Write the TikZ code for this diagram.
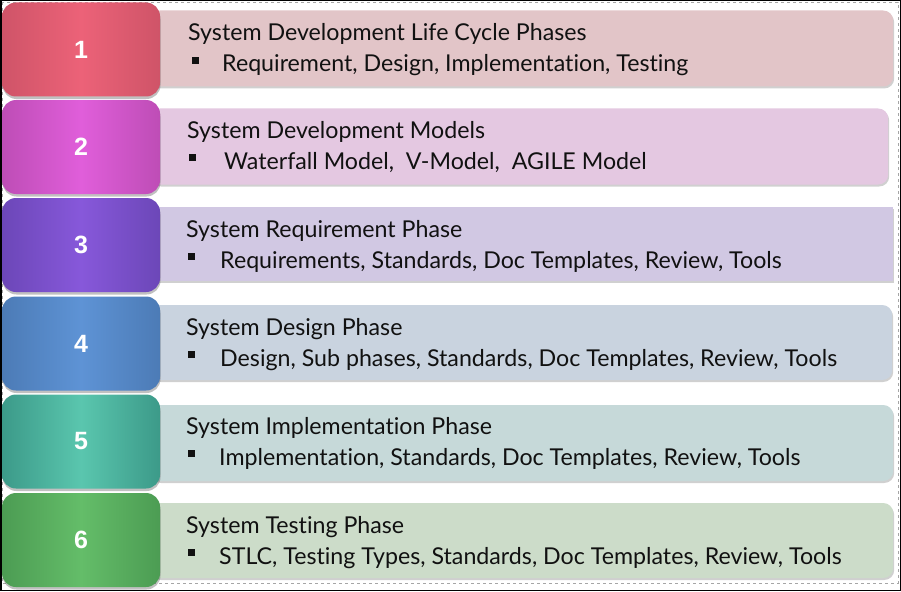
\documentclass[tikz,border=0pt]{standalone}
\usepackage{fontspec}
\setmainfont{Lato}[Ligatures=NoCommon]
\newfontfamily\numfont{Liberation Sans}
\usetikzlibrary{shadows}
\definecolor{ad}{HTML}{CF5468}\definecolor{al}{HTML}{EC6278}\definecolor{ab}{HTML}{E2C5C8}
\definecolor{bd}{HTML}{BE4DB6}\definecolor{bl}{HTML}{E05EDA}\definecolor{bb}{HTML}{E4C8E1}
\definecolor{cd}{HTML}{6C47B8}\definecolor{cl}{HTML}{8758DA}\definecolor{cb}{HTML}{D1C8E3}
\definecolor{dd}{HTML}{4C7BB6}\definecolor{dl}{HTML}{5E93D5}\definecolor{db}{HTML}{C9D3DF}
\definecolor{ed}{HTML}{3C9A89}\definecolor{el}{HTML}{5AC6AE}\definecolor{eb}{HTML}{C6D9D9}
\definecolor{fd}{HTML}{4C9C53}\definecolor{fl}{HTML}{64BD69}\definecolor{fb}{HTML}{CCDCC9}
\definecolor{txt}{HTML}{111111}
\newcommand\bul{\rule[0.34em]{0.29em}{0.29em}}
\begin{document}
\begin{tikzpicture}[x=1pt,y=-1pt,
  numbox/.style={rounded corners=14pt, minimum width=158pt, minimum height=94pt, inner sep=0pt,
    text=white, font=\numfont\bfseries\fontsize{25}{25}\selectfont,
    drop shadow={shadow xshift=0.5pt, shadow yshift=-2.5pt, opacity=0.35, fill=black!70}},
  barbox/.style={rounded corners=10pt, minimum height=76pt, inner sep=0pt, anchor=west,
    drop shadow={shadow xshift=1pt, shadow yshift=-2pt, opacity=0.3, fill=black!60}},
  ttl/.style={anchor=base west, inner sep=0pt, text=txt, font=\fontsize{23.2}{23.2}\selectfont},
  itm/.style={anchor=base west, inner sep=0pt, text=txt, font=\fontsize{23.2}{23.2}\selectfont}]
\useasboundingbox (0,0) rectangle (901,591);
\fill[white] (0,0) rectangle (901,591);
\draw[gray!70, dashed, line width=0.5pt] (2,2) rectangle (898,583);
% bars
\node[barbox, fill=ab, minimum width=743pt] (bar1) at (150,48.5) {};
\node[barbox, fill=bb, minimum width=738pt] (bar2) at (150,146.5) {};
\node[barbox, fill=cb, minimum width=743pt, minimum height=74pt, rounded corners=0pt] (bar3) at (150,243.5) {};
\node[barbox, fill=db, minimum width=742pt, minimum height=75pt] (bar4) at (150,342.5) {};
\node[barbox, fill=eb, minimum width=743pt] (bar5) at (150,443) {};
\node[barbox, fill=fb, minimum width=743pt, minimum height=75pt] (bar6) at (150,540.5) {};
% number boxes
\node[numbox, left color=ad, right color=ad, middle color=al] (box1) at (81,49.5) {1};
\node[numbox, left color=bd, right color=bd, middle color=bl] (box2) at (81,147) {2};
\node[numbox, left color=cd, right color=cd, middle color=cl] (box3) at (81,245) {3};
\node[numbox, left color=dd, right color=dd, middle color=dl] (box4) at (81,343.5) {4};
\node[numbox, left color=ed, right color=ed, middle color=el] (box5) at (81,441.5) {5};
\node[numbox, left color=fd, right color=fd, middle color=fl] (box6) at (81,540) {6};
% texts
\node[ttl] (ttl1) at (188,41) {System Development Life Cycle Phases};
\node[itm] (itm1) at (192,72) {\makebox[30pt][l]{\bul}Requirement, Design, Implementation, Testing};
\node[ttl] (ttl2) at (187,139) {System Development Models};
\node[itm] (itm2) at (189,169) {\makebox[35pt][l]{\bul}Waterfall Model,\ \ V-Model,\ \ AGILE Model};
\node[ttl] (ttl3) at (186,237) {System Requirement Phase};
\node[itm] (itm3) at (188,268) {\makebox[32pt][l]{\bul}Requirements, Standards, Doc Templates, Review, Tools};
\node[ttl] (ttl4) at (186,335.5) {System Design Phase};
\node[itm] (itm4) at (188,366) {\makebox[32pt][l]{\bul}Design, Sub phases, Standards, Doc Templates, Review, Tools};
\node[ttl] (ttl5) at (186,434.5) {System Implementation Phase};
\node[itm] (itm5) at (188,465) {\makebox[31pt][l]{\bul}Implementation, Standards, Doc Templates, Review, Tools};
\node[ttl] (ttl6) at (186,533) {System Testing Phase};
\node[itm] (itm6) at (188,564) {\makebox[31pt][l]{\bul}STLC, Testing Types, Standards, Doc Templates, Review, Tools};
\draw[black, line width=1.5pt] (0.75,0.75) rectangle (900.25,590.25);
\end{tikzpicture}
\end{document}
